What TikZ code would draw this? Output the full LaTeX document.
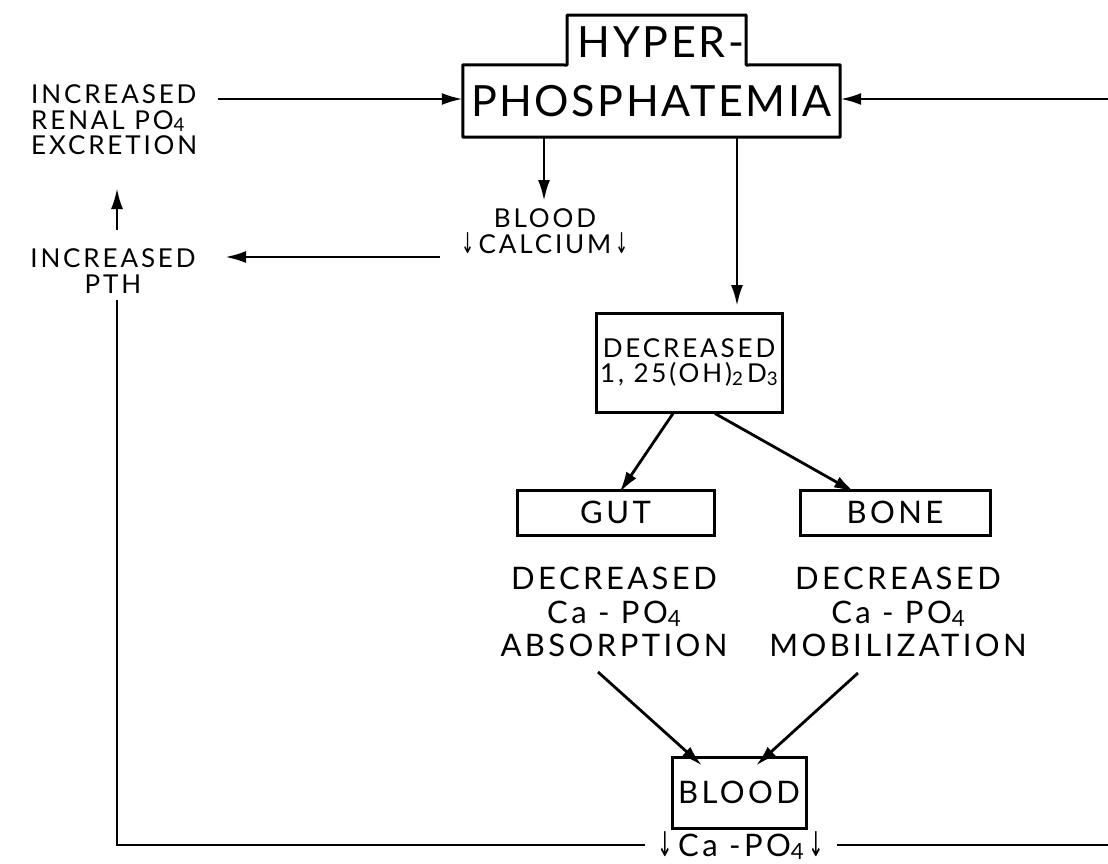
\documentclass[tikz,border=0pt]{standalone}
\usepackage{graphicx}
\usepackage{fontspec}
\setmainfont{Lato}
\newfontfamily\wide{Lato}[LetterSpace=11]
\newfontfamily\widebig{Lato}[LetterSpace=6]
\newfontfamily\arrfont{DejaVu Sans}
\usetikzlibrary{arrows.meta,calc}

% lowered small subscript digit
\newcommand\lowsub[1]{\raisebox{-0.2ex}{\scalebox{0.72}{#1}}}
% thin downward arrow used as a "decrease" sign
\newcommand\dn{{\arrfont\scalebox{0.6}[1.1]{↓}}}

\tikzset{
  lbl/.style={inner sep=0pt, align=center},
  small/.style={lbl, font=\wide\fontsize{26}{25.5}\selectfont},
  medium/.style={lbl, font=\wide\fontsize{31}{33.5}\selectfont},
  large/.style={lbl, font=\widebig\fontsize{43}{43}\selectfont},
  box/.style={draw, line width=3pt, inner sep=0pt},
  arr/.style={line width=2.8pt, -{Latex[length=21pt,width=12pt]}},
  ln/.style={line width=2.8pt},
}

\begin{document}
\begin{tikzpicture}[x=1pt,y=-1pt]
\useasboundingbox (0,0) rectangle (1108,863);

% ---- central stepped box ----
\node[large] (hyper) at (661,42) {HYPER-};
\node[large, minimum width=377pt, minimum height=72pt] (phos) at (651.5,101) {PHOSPHATEMIA};
\draw[line width=3pt, line join=round]
  (phos.south west) -- (phos.north west) -- (567,65) -- (567,15)
  -- (746,15) -- (746,65) -- (phos.north east) -- (phos.south east) -- cycle;

% ---- left column ----
\node[small, align=left, anchor=west] (renal) at (31,120)
  {INCREASED\\RENAL PO\lowsub{4}\\EXCRETION};
\node[small] (pth) at (113,271) {INCREASED\\PTH};

% ---- blood calcium ----
\node[small] (bcal) at (545,231) {BLOOD\\\dn\,CALCIUM\,\dn};

% ---- vitamin D box ----
\node[small, box, minimum width=186pt, minimum height=99pt] (dec) at (689,362.5)
  {DECREASED\\1, 25(OH)\lowsub{2}\,D\lowsub{3}};

% ---- gut and bone ----
\node[medium, box, minimum width=197pt, minimum height=45pt] (gut) at (615.5,512.5) {GUT};
\node[medium, box, minimum width=190pt, minimum height=45pt] (bone) at (895,512.5) {BONE};
\node[medium] (gutt) at (614,612) {DECREASED\\Ca - PO\lowsub{4}\\ABSORPTION};
\node[medium] (bonet) at (898,612) {DECREASED\\Ca - PO\lowsub{4}\\MOBILIZATION};

% ---- blood ----
\node[medium, box, minimum width=134pt, minimum height=71pt] (blood) at (739,792.5) {BLOOD};
\node[medium, anchor=base] (capo) at (741,856) {\dn\,Ca -PO\lowsub{4}\,\dn};

% ---- connector end points ----
\coordinate (renalout) at (218,99);
\coordinate (rightedge) at (1108,99);
\coordinate (rightlow) at (1108,845);
\coordinate (leftlow) at (117,845);
\coordinate (pthtop) at (117,230);
\coordinate (pthbot) at (117,300);
\coordinate (bcalout) at (440,257);
\coordinate (bcaltop) at (544,201);
\coordinate (dectop) at (737,306);

% ---- connectors ----
\draw[arr] (renalout) -- (phos.west |- renalout);
\draw[arr] (rightedge) -- (phos.east |- rightedge);
\draw[arr] (phos.south -| bcaltop) -- (bcaltop);
\draw[arr] (phos.south -| dectop) -- (dectop);
\draw[arr] (pthtop) -- (117,188);
\draw[arr] (bcalout) -- (225,257);
\draw[arr] ([xshift=-16pt]dec.south) -- ([xshift=4pt,yshift=-4pt]gut.north);
\draw[arr] ([xshift=26pt]dec.south) -- ([xshift=-40pt,yshift=-4pt]bone.north);
\draw[arr] (598,672) -- ([xshift=-37pt,yshift=-10pt]blood.north);
\draw[arr] (858,673) -- ([xshift=17pt,yshift=-10pt]blood.north);
\draw[ln] (pthbot) -- (leftlow) -- ([xshift=-12pt]leftlow -| capo.west);
\draw[ln] ([xshift=12pt]capo.east |- rightlow) -- (rightlow);
\end{tikzpicture}
\end{document}
